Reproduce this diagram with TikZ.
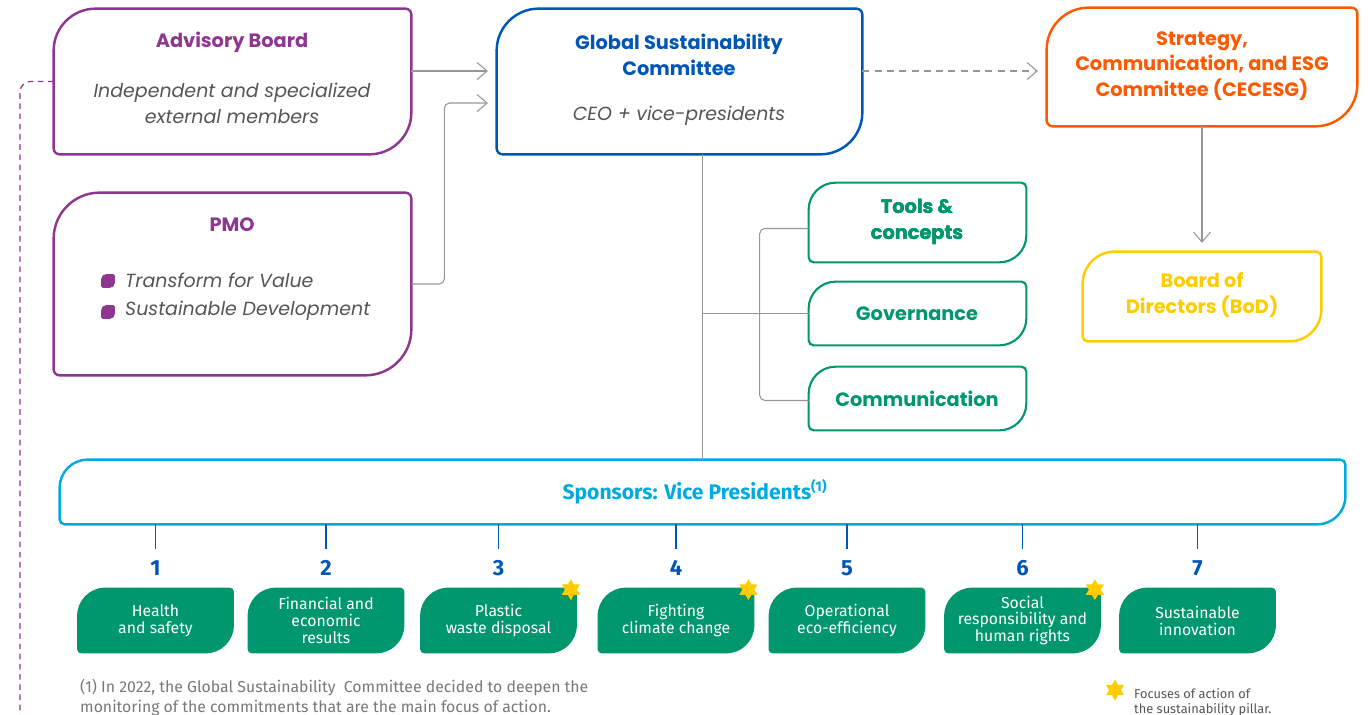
\documentclass[tikz,border=0pt]{standalone}
\usepackage{fontspec}
\setmainfont{Poppins}
\newfontfamily\firafont{Fira Sans}
\usetikzlibrary{arrows.meta,positioning,calc,shapes.geometric}
\definecolor{vpurple}{RGB}{142,55,145}
\definecolor{vblue}{RGB}{0,86,184}
\definecolor{vorange}{RGB}{255,88,0}
\definecolor{vyellow}{RGB}{255,204,0}
\definecolor{vgreen}{RGB}{0,150,110}
\definecolor{vsky}{RGB}{0,170,225}
\definecolor{lnkgray}{RGB}{150,150,150}
\definecolor{txtgray}{RGB}{85,85,85}
\definecolor{footgray}{RGB}{120,120,120}
% leaf outline: big radius at top left and bottom right
\newcommand{\leaf}[4][]{%
  \draw[#1] ($(#2.north west)+(0,-#3)$) arc[start angle=180,end angle=90,radius=#3]
    -- ($(#2.north east)+(-#4,0)$) arc[start angle=90,end angle=0,radius=#4]
    -- ($(#2.south east)+(0,#3)$) arc[start angle=0,end angle=-90,radius=#3]
    -- ($(#2.south west)+(#4,0)$) arc[start angle=270,end angle=180,radius=#4] -- cycle;}
\tikzset{
  box/.style 2 args={minimum width=#1*0.02cm, minimum height=#2*0.02cm, inner sep=0pt},
  hd/.style={font=\fontsize{11}{14.7}\selectfont\bfseries, align=center},
  sub/.style={font=\fontsize{10.8}{14.7}\selectfont\itshape, text=txtgray, align=center},
  lnk/.style={lnkgray, line width=0.6pt},
  arr/.style={lnk, -{Straight Barb[length=2mm,width=3.4mm]}},
  pilfill/.style={fill=vgreen, draw=none},
  piltxt/.style={font=\firafont\fontsize{9}{9.6}\selectfont, text=white, align=center},
  numst/.style={font=\firafont\fontsize{12.5}{14}\selectfont\bfseries, text=vblue},
  tick/.style={vblue, line width=0.6pt},
  fstar/.style={star, star points=6, star point ratio=1.75, minimum size=0.42cm,
      inner sep=0pt, fill=vyellow, draw=none},
  foot/.style={font=\firafont\fontsize{9}{11.4}\selectfont, text=footgray, align=left},
  legtxt/.style={font=\firafont\fontsize{7.3}{8.6}\selectfont, text=txtgray, align=left},
}
\begin{document}
\begin{tikzpicture}[x=0.02cm,y=0.02cm]
\useasboundingbox (0,0) rectangle (1368,-715);
% top row
\node[box={357}{145}] (adv) at (232.5,-81.5) {};
\leaf[vpurple, line width=1.4pt]{adv}{42}{6}
\node[hd, text=vpurple] (advT) at (232,-42) {Advisory Board};
\node[sub] (advS) at (232,-103) {Independent and specialized\\external members};

\node[box={357}{182}] (pmo) at (232.5,-284) {};
\leaf[vpurple, line width=1.4pt]{pmo}{46}{6}
\node[hd, text=vpurple] (pmoT) at (232,-225) {PMO};
\node[box={13}{13}] (bul1) at (108,-281) {};
\node[box={13}{13}] (bul2) at (108,-312) {};
\leaf[fill=vpurple, draw=none]{bul1}{5}{1.5}
\leaf[fill=vpurple, draw=none]{bul2}{5}{1.5}
\node[sub, anchor=west] (pmo1) at (119,-280) {Transform for Value};
\node[sub, anchor=west] (pmo2) at (119,-311) {Sustainable Development};

\node[box={365}{145}] (gsc) at (679.5,-81.5) {};
\leaf[vblue, line width=1.4pt]{gsc}{42}{6}
\node[hd, text=vblue] (gscT) at (679,-55) {Global Sustainability\\Committee};
\node[sub] (gscS) at (679,-116) {CEO + vice-presidents};

\node[box={310}{118}] (cec) at (1202,-67) {};
\leaf[vorange, line width=1.4pt]{cec}{42}{6}
\node[hd, text=vorange] (cecT) at (1202,-66) {Strategy,\\Communication, and ESG\\Committee (CECESG)};

\node[box={238}{89}] (bod) at (1202,-296.5) {};
\leaf[vyellow, line width=1.4pt]{bod}{32}{5}
\node[hd, text=vyellow] (bodT) at (1202,-295) {Board of\\Directors (BoD)};

% green topics
\node[box={217}{79}] (tools) at (917.5,-222.5) {};
\node[box={217}{63}] (gov) at (917.5,-313.5) {};
\node[box={217}{63}] (comm) at (917.5,-398.5) {};
\foreach \b in {tools,gov,comm}
  \leaf[vgreen, line width=1.2pt]{\b}{27}{5}
\node[hd, text=vgreen] (toolsT) at (917,-222) {Tools \&\\concepts};
\node[hd, text=vgreen] (govT) at (917,-314) {Governance};
\node[hd, text=vgreen] (commT) at (917,-399) {Communication};

% sponsors bar
\node[box={1285}{64}] (spons) at (702.5,-492) {};
\leaf[vsky, line width=1.4pt]{spons}{28}{5}
\node[font=\firafont\fontsize{12}{14}\selectfont\bfseries, text=vsky] (sponsT) at (695,-492)
  {Sponsors: Vice Presidents\textsuperscript{(1)}};

% connectors
\draw[arr, shorten >=5] ([yshift=0.21cm]adv.east) -- ([yshift=0.21cm]adv.east -| gsc.west);
\draw[arr, rounded corners=3, shorten >=5] (pmo.east) -- ++(33,0) |- ([yshift=-0.43cm]gsc.west);
\draw[arr, dashed, dash pattern=on 4pt off 3pt, shorten >=5] ([yshift=0.21cm]gsc.east)
  -- ([yshift=0.21cm]gsc.east -| cec.west);
\draw[arr, shorten >=5] (cec.south) -- (bod.north);
\draw[lnk] (spons.north |- gsc.south) -- (spons.north);
\draw[lnk] (gov.west) -- (gov.west -| spons.north);
\draw[lnk, rounded corners=3] ([yshift=-0.12cm]tools.west) -- ++(-49,0) |- ([yshift=-0.04cm]comm.west);
\coordinate (dashend) at (20,-715);
\draw[vpurple, line width=0.7pt, dash pattern=on 3.2pt off 2.6pt, rounded corners=6] (adv.west) -| (dashend);

% pillars
\foreach \i/\xx/\lbl in {1/155.5/{Health\\and safety},
    2/326/{Financial and\\economic\\results},
    3/498.5/{Plastic\\waste disposal},
    4/676/{Fighting\\climate change},
    5/847/{Operational\\eco-efficiency},
    6/1022.5/{Social\\responsibility and\\human rights},
    7/1197.5/{Sustainable\\innovation}}{
  \node[numst] (num\i) at (\xx,-568) {\i};
  \draw[tick] (spons.south -| num\i) -- ++(0,-25);
  \node[box={156}{65}] (pil\i) at (\xx,-620.5) {};
  \leaf[pilfill]{pil\i}{28}{4}
  \node[piltxt] (pilT\i) at (pil\i) {\lbl};
}
\foreach \i in {3,4,6}
  \node[fstar] (star\i) at ($(pil\i.north east)+(-6,-2)$) {};

% notes
\node[foot, anchor=north west] (foot) at (74,-673)
  {(1) In 2022, the Global Sustainability\ \ Committee decided to deepen the\\
   monitoring of the commitments that are the main focus of action.};
\node[fstar] (legstar) at (1115,-690) {};
\node[legtxt, anchor=north west] (legT) at (1128,-682)
  {Focuses of action of\\the sustainability pillar.};
\end{tikzpicture}
\end{document}
